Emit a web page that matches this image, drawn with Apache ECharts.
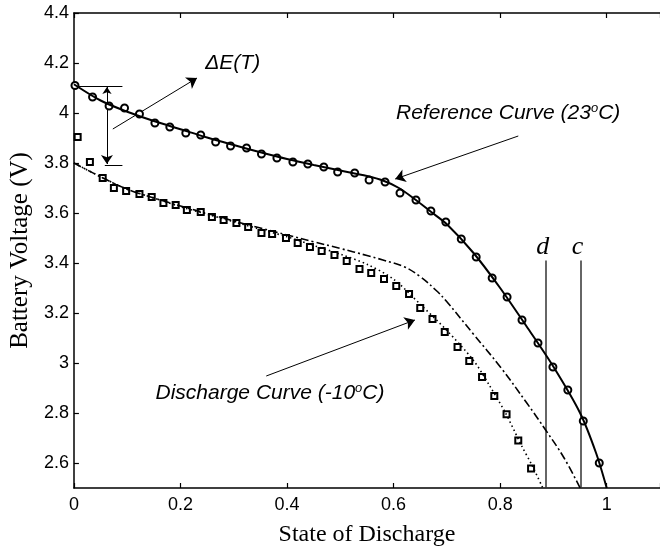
<!DOCTYPE html>
<html>
<head>
<meta charset="utf-8">
<script src="https://cdn.jsdelivr.net/npm/echarts@6/dist/echarts.min.js"></script>
<style>
  html, body { margin: 0; padding: 0; background: #fff; }
  #chart { width: 660px; height: 552px; }
</style>
</head>
<body>
<div id="chart"></div>
<script>
// Measured cell voltage at 23 °C (circles)
const refSoc  = [0.002, 0.035, 0.066, 0.095, 0.123, 0.152, 0.18, 0.21, 0.238, 0.266, 0.294, 0.324, 0.352, 0.381, 0.411, 0.439, 0.469, 0.495, 0.527, 0.554, 0.584, 0.612, 0.642, 0.67, 0.698, 0.727, 0.755, 0.785, 0.813, 0.841, 0.871, 0.899, 0.927, 0.956, 0.986];
const refVolt = [4.11, 4.064, 4.028, 4.02, 3.996, 3.96, 3.944, 3.92, 3.912, 3.884, 3.868, 3.86, 3.836, 3.82, 3.804, 3.796, 3.784, 3.764, 3.76, 3.732, 3.724, 3.68, 3.652, 3.608, 3.564, 3.496, 3.424, 3.34, 3.264, 3.172, 3.08, 2.984, 2.892, 2.768, 2.6];

// Model reference curve at 23 °C (solid)
const refModelSoc  = [0, 0.05, 0.1, 0.15, 0.2, 0.25, 0.3, 0.35, 0.4, 0.45, 0.5, 0.55, 0.58, 0.61, 0.64, 0.67, 0.7, 0.75, 0.8, 0.85, 0.9, 0.95, 0.98, 1.0];
const refModelVolt = [4.115, 4.05, 4.005, 3.968, 3.935, 3.902, 3.872, 3.843, 3.816, 3.792, 3.77, 3.748, 3.73, 3.70, 3.655, 3.605, 3.555, 3.44, 3.30, 3.145, 2.985, 2.80, 2.64, 2.5];

// Measured cell voltage at -10 °C (squares)
const coldSoc  = [0.007, 0.03, 0.054, 0.075, 0.098, 0.123, 0.146, 0.168, 0.191, 0.212, 0.238, 0.259, 0.281, 0.305, 0.327, 0.352, 0.372, 0.398, 0.42, 0.443, 0.465, 0.489, 0.512, 0.536, 0.558, 0.582, 0.605, 0.629, 0.65, 0.673, 0.696, 0.72, 0.742, 0.766, 0.789, 0.812, 0.834, 0.858];
const coldVolt = [3.904, 3.804, 3.74, 3.70, 3.688, 3.676, 3.664, 3.64, 3.632, 3.612, 3.604, 3.584, 3.572, 3.56, 3.544, 3.52, 3.516, 3.50, 3.48, 3.464, 3.448, 3.432, 3.408, 3.376, 3.36, 3.336, 3.308, 3.276, 3.22, 3.176, 3.124, 3.064, 3.008, 2.944, 2.868, 2.795, 2.69, 2.578];

// Model curve at -10 °C (dotted)
const coldModelSoc  = [0, 0.05, 0.1, 0.15, 0.2, 0.25, 0.3, 0.35, 0.4, 0.45, 0.5, 0.55, 0.6, 0.65, 0.7, 0.75, 0.78, 0.81, 0.84, 0.86, 0.88];
const coldModelVolt = [3.80, 3.745, 3.695, 3.66, 3.625, 3.595, 3.565, 3.535, 3.505, 3.47, 3.435, 3.395, 3.335, 3.235, 3.13, 3.01, 2.91, 2.80, 2.67, 2.59, 2.5];

// Shifted reference curve for -10 °C (dash-dot)
const shiftSoc  = [0, 0.05, 0.1, 0.15, 0.2, 0.25, 0.3, 0.35, 0.4, 0.45, 0.5, 0.55, 0.58, 0.62, 0.65, 0.68, 0.7, 0.75, 0.8, 0.85, 0.886, 0.92, 0.95];
const shiftVolt = [3.80, 3.745, 3.695, 3.66, 3.628, 3.598, 3.568, 3.54, 3.512, 3.485, 3.458, 3.43, 3.412, 3.385, 3.345, 3.29, 3.245, 3.115, 2.985, 2.84, 2.73, 2.62, 2.5];

// Axis ticks
const socTicks  = [0, 0.2, 0.4, 0.6, 0.8, 1];
const voltTicks = [2.6, 2.8, 3, 3.2, 3.4, 3.6, 3.8, 4, 4.2, 4.4];

// Cut-off states of discharge
const cutoffNames = ['d', 'c'];
const cutoffSoc   = [0.886, 0.951];
const cutoffTop   = 3.41;

const zip = (xs, ys) => xs.map((x, i) => [x, ys[i]]);

const INK = '#000';
const SANS = '"Liberation Sans", Arial, sans-serif';
const SERIF = '"Liberation Serif", "Times New Roman", serif';

const chart = echarts.init(document.getElementById('chart'), null, { renderer: 'canvas' });

const arrowStyle = { color: INK, width: 1, opacity: 1 };

chart.setOption({
  animation: false,
  backgroundColor: '#fff',
  grid: { left: 69, right: 0, top: 13, bottom: 64, containLabel: false },
  xAxis: [
    {
      type: 'value', min: 0, max: 1.1, interval: 0.2,
      axisLine: { lineStyle: { color: INK, width: 1.5 } },
      axisTick: { inside: true, length: 5, lineStyle: { color: INK, width: 1.2 } },
      axisLabel: {
        color: INK, fontFamily: SANS, fontSize: 18, margin: 8,
        customValues: socTicks
      },
      splitLine: { show: false },
      name: 'State of Discharge', nameLocation: 'middle', nameGap: 35,
      nameTextStyle: { color: INK, fontFamily: SERIF, fontSize: 24 }
    },
    {
      type: 'value', position: 'top', min: 0, max: 1.1, interval: 0.2,
      axisLine: { lineStyle: { color: INK, width: 1.5 } },
      axisTick: { inside: true, length: 5, lineStyle: { color: INK, width: 1.2 } },
      axisLabel: { show: false },
      splitLine: { show: false }
    }
  ],
  yAxis: {
    type: 'value', min: 2.5, max: 4.4,
    axisLine: { lineStyle: { color: INK, width: 1.5 } },
    axisTick: { inside: true, length: 5, customValues: voltTicks, lineStyle: { color: INK, width: 1.2 } },
    axisLabel: { color: INK, fontFamily: SANS, fontSize: 18, margin: 5, customValues: voltTicks },
    splitLine: { show: false },
    name: 'Battery Voltage (V)', nameLocation: 'middle', nameGap: 32,
    nameTextStyle: { color: INK, fontFamily: SERIF, fontSize: 25 }
  },
  series: [
    {
      name: 'Measured 23°C', type: 'scatter', symbol: 'emptyCircle', symbolSize: 7,
      data: zip(refSoc, refVolt),
      itemStyle: { color: INK, borderColor: INK, borderWidth: 1.2, opacity: 1 }, z: 2
    },
    {
      name: 'Measured -10°C', type: 'scatter', symbol: 'emptyRect', symbolSize: 6,
      data: zip(coldSoc, coldVolt),
      itemStyle: { color: INK, borderColor: INK, borderWidth: 1.2, opacity: 1 }, z: 2
    },
    {
      name: 'Reference model', type: 'line', smooth: 0.3, showSymbol: false,
      data: zip(refModelSoc, refModelVolt),
      lineStyle: { color: INK, width: 2 }, z: 3
    },
    {
      name: 'Cold model', type: 'line', smooth: 0.3, showSymbol: false,
      data: zip(coldModelSoc, coldModelVolt),
      lineStyle: { color: INK, width: 1.6, type: [1.5, 3] }, z: 3
    },
    {
      name: 'Shifted reference', type: 'line', smooth: 0.4, showSymbol: false,
      data: zip(shiftSoc, shiftVolt),
      lineStyle: { color: INK, width: 1.6, type: [8, 3, 2, 3] }, z: 3
    },
    {
      // cut-off markers d and c
      name: 'Cut-off', type: 'lines', coordinateSystem: 'cartesian2d',
      symbol: ['none', 'none'],
      lineStyle: { color: '#333', width: 1.5, opacity: 1 },
      data: cutoffSoc.map(s => ({ coords: [[s, 2.5], [s, cutoffTop]] })), z: 2
    },
    {
      // ΔE(T) bracket
      name: 'Bracket', type: 'lines', coordinateSystem: 'cartesian2d',
      symbol: ['none', 'none'],
      lineStyle: { color: INK, width: 1, opacity: 1 },
      data: [
        { coords: [[0.0, 4.108], [0.091, 4.108]] },
        { coords: [[0.058, 3.792], [0.091, 3.792]] }
      ], z: 2
    },
    {
      name: 'Bracket arrow', type: 'lines', coordinateSystem: 'cartesian2d',
      symbol: ['arrow', 'arrow'], symbolSize: [7, 9],
      lineStyle: { color: INK, width: 1, opacity: 1 },
      data: [{ coords: [[0.062, 4.104], [0.062, 3.796]] }], z: 2
    },
    {
      name: 'Pointers', type: 'lines', coordinateSystem: 'cartesian2d',
      symbol: ['none', 'arrow'], symbolSize: 10,
      lineStyle: arrowStyle,
      data: [
        { coords: [[0.073, 3.936], [0.231, 4.14]] },
        { coords: [[0.834, 3.908], [0.603, 3.736]] },
        { coords: [[0.361, 2.948], [0.64, 3.172]] }
      ], z: 2
    },
    {
      name: 'Notes', type: 'scatter', symbolSize: 0, silent: true,
      itemStyle: { opacity: 1 },
      data: [
        { value: [0.298, 4.2], label: { formatter: '{it|ΔE(T)}' } },
        { value: [0.815, 4.0], label: { formatter: '{it|Reference Curve (23}{sup|o}{it|C)}' } },
        { value: [0.368, 2.88], label: { formatter: '{it|Discharge Curve (-10}{sup|o}{it|C)}' } }
      ],
      label: {
        show: true, position: 'inside', color: INK, opacity: 1,
        rich: {
          it: { fontFamily: SANS, fontStyle: 'italic', fontSize: 21, color: INK },
          sup: { fontFamily: SANS, fontStyle: 'italic', fontSize: 13, color: INK, verticalAlign: 'top', padding: [0, 0, 10, 0] }
        }
      }, z: 5
    },
    {
      name: 'Cut-off labels', type: 'scatter', symbolSize: 0, silent: true,
      itemStyle: { opacity: 1 },
      data: cutoffSoc.map((s, i) => ({ value: [s - 0.006, 3.464], name: cutoffNames[i] })),
      label: {
        show: true, position: 'inside', formatter: '{b}', color: INK, opacity: 1,
        fontFamily: SERIF, fontStyle: 'italic', fontSize: 26
      }, z: 5
    }
  ]
});
</script>
</body>
</html>
